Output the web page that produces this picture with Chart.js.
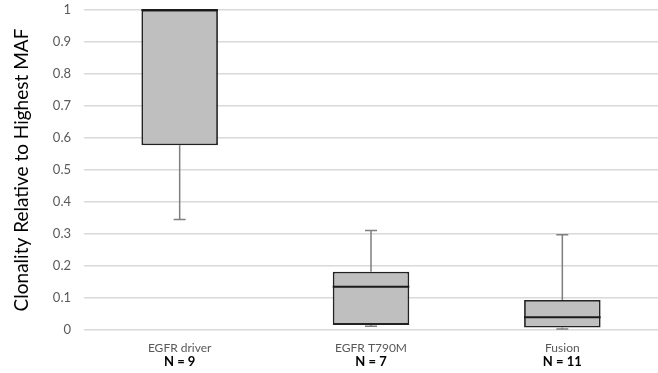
<!DOCTYPE html>
<html>
<head>
<meta charset="utf-8">
<script src="https://cdn.jsdelivr.net/npm/chart.js@4/dist/chart.umd.min.js"></script>
<style>
html,body{margin:0;padding:0;background:#fff;}
#wrap{width:658px;height:373px;position:relative;}
</style>
</head>
<body>
<div id="wrap"><canvas id="c"></canvas></div>
<script>
const categories = ["EGFR driver", "EGFR T790M", "Fusion"];
const nLabels = ["N = 9", "N = 7", "N = 11"];
const whiskerMin = [0.345, 0.012, 0.003];
const q1 = [0.577, 0.016, 0.008];
const median = [1.0, 0.135, 0.04];
const q3 = [1.0, 0.182, 0.094];
const whiskerMax = [1.0, 0.311, 0.298];
const yTicks = [0, 0.1, 0.2, 0.3, 0.4, 0.5, 0.6, 0.7, 0.8, 0.9, 1];

const FONT = "Lato, 'Open Sans', sans-serif";

const boxPlugin = {
  id: 'boxWhiskers',
  afterDatasetsDraw(chart) {
    const ctx = chart.ctx;
    const xs = chart.scales.x, ys = chart.scales.y;
    const meta = chart.getDatasetMeta(0);
    ctx.save();
    categories.forEach((c, i) => {
      const bar = meta.data[i];
      const x = xs.getPixelForValue(i);
      const half = bar.width / 2;
      const capHalf = 6;
      const yMin = ys.getPixelForValue(whiskerMin[i]);
      const yQ1 = ys.getPixelForValue(q1[i]);
      const yQ3 = ys.getPixelForValue(q3[i]);
      const yMax = ys.getPixelForValue(whiskerMax[i]);
      const yMed = ys.getPixelForValue(median[i]);
      ctx.strokeStyle = '#7f7f7f';
      ctx.lineWidth = 1.5;
      ctx.beginPath();
      ctx.moveTo(x, yQ1); ctx.lineTo(x, yMin);
      ctx.moveTo(x - capHalf, yMin); ctx.lineTo(x + capHalf, yMin);
      ctx.moveTo(x, yQ3); ctx.lineTo(x, yMax);
      ctx.moveTo(x - capHalf, yMax); ctx.lineTo(x + capHalf, yMax);
      ctx.stroke();
      ctx.strokeStyle = '#1a1a1a';
      ctx.lineWidth = 2;
      ctx.beginPath();
      ctx.moveTo(x - half, yMed); ctx.lineTo(x + half, yMed);
      ctx.stroke();
    });
    // N labels under category names
    ctx.fillStyle = '#000000';
    ctx.font = "bold 13px " + FONT;
    ctx.textAlign = 'center';
    ctx.textBaseline = 'middle';
    nLabels.forEach((t, i) => {
      ctx.fillText(t, xs.getPixelForValue(i), xs.bottom - 11);
    });
    ctx.restore();
  }
};

new Chart(document.getElementById('c'), {
  type: 'bar',
  data: {
    labels: categories,
    datasets: [{
      data: categories.map((c, i) => [q1[i], q3[i]]),
      backgroundColor: '#bfbfbf',
      borderColor: '#222222',
      borderWidth: 1.8,
      borderSkipped: false,
      barPercentage: 0.4,
      categoryPercentage: 1.0
    }]
  },
  options: {
    responsive: true,
    maintainAspectRatio: false,
    animation: false,
    layout: { padding: { top: 10, right: 0, bottom: 0, left: 0 } },
    plugins: { legend: { display: false }, tooltip: { enabled: false } },
    scales: {
      x: {
        type: 'category',
        position: 'bottom',
        grid: { display: false, drawTicks: false },
        border: { display: false },
        ticks: { color: '#595959', font: { family: FONT, size: 12 }, padding: 11 },
        afterFit(axis) { axis.height = 43; }
      },
      y: {
        min: 0,
        max: 1,
        afterBuildTicks(axis) { axis.ticks = yTicks.map(v => ({ value: v })); },
        grid: { color: '#d9d9d9', lineWidth: 1.5, drawTicks: false },
        border: { display: false },
        ticks: {
          color: '#595959', font: { family: FONT, size: 13 }, padding: 13,
          callback: (v) => String(Math.round(v * 10) / 10)
        },
        title: { display: true, text: 'Clonality Relative to Highest MAF', color: '#000000', font: { family: FONT, size: 19 }, padding: { top: 10, bottom: 0 } },
        afterFit(axis) { axis.width = 84; axis.paddingTop = 0; axis.paddingBottom = 0; }
      }
    }
  },
  plugins: [boxPlugin]
});
</script>
</body>
</html>
